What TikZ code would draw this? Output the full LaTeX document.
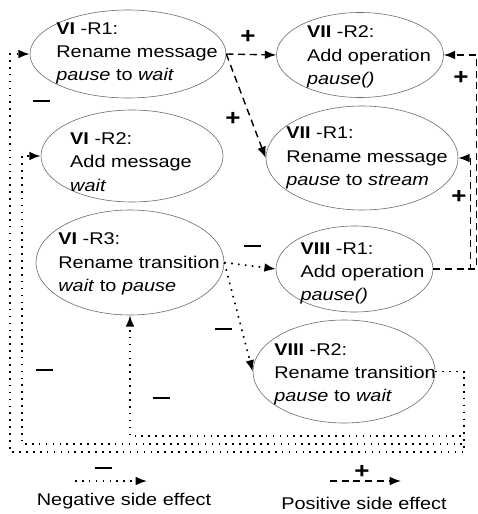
\documentclass[tikz,border=0pt]{standalone}
\usepackage{fontspec}
\setmainfont{Liberation Sans}[FakeStretch=1.17]
\usetikzlibrary{arrows.meta,shapes.geometric}
\definecolor{ruleEdge}{RGB}{105,105,105}
\tikzset{
  rl/.style    ={ellipse, draw=ruleEdge, line width=0.5pt, inner sep=0pt},
  rtxt/.style  ={align=left, inner sep=0pt, font=\fontsize{14.5}{19.8}\selectfont},
  negfx/.style ={-{Latex[length=3.4mm,width=2.6mm]}, line width=1.4pt,
                 dash pattern=on 1.4pt off 4.5pt},
  posfx/.style ={-{Latex[length=3.4mm,width=2.6mm]}, line width=1.2pt,
                 dash pattern=on 6pt off 4pt},
  sgnp/.style  ={inner sep=0pt, font=\fontsize{19}{22}\selectfont\bfseries},
  sgnm/.style  ={inner sep=0pt},
  legend/.style={inner sep=0pt, font=\fontsize{14.5}{17}\selectfont},
}
\newcommand{\negsign}{\rule{0.51cm}{1.9pt}}

\begin{document}
\begin{tikzpicture}[x=0.03cm, y=-0.03cm]
\useasboundingbox (0,0) rectangle (477,514);
% refactoring rules
\node[rl, minimum width=5.88cm, minimum height=2.64cm] (r61) at (128,54) {};
\node[rl, minimum width=5.01cm, minimum height=2.55cm] (r72) at (360,55) {};
\node[rl, minimum width=5.76cm, minimum height=3.12cm] (r71) at (362,158) {};
\node[rl, minimum width=5.46cm, minimum height=2.76cm] (r62) at (132,156) {};
\node[rl, minimum width=5.64cm, minimum height=3.15cm] (r63) at (130,262.5) {};
\node[rl, minimum width=4.71cm, minimum height=2.58cm] (r81) at (354.5,269) {};
\node[rl, minimum width=5.46cm, minimum height=3.09cm] (r82) at (344,371.5) {};
\node[rtxt] (t61) at (137,53.5) {\textbf{VI} -R1:\\Rename message\\\textit{pause} to \textit{wait}};
\node[rtxt] (t72) at (369,57) {\textbf{VII} -R2:\\Add operation\\\textit{pause()}};
\node[rtxt] (t71) at (367,158) {\textbf{VII} -R1:\\Rename message\\\textit{pause} to \textit{stream}};
\node[rtxt] (t62) at (131,162) {\textbf{VI} -R2:\\Add message\\\textit{wait}};
\node[rtxt] (t63) at (139,264) {\textbf{VI} -R3:\\Rename transition\\\textit{wait} to \textit{pause}};
\node[rtxt] (t81) at (362.5,273.5) {\textbf{VIII} -R1:\\Add operation\\\textit{pause()}};
\node[rtxt] (t82) at (355,374.5) {\textbf{VIII} -R2:\\Rename transition\\\textit{pause} to \textit{wait}};

% positive side effects
\draw[posfx] (r61.east) -- (r72.west);
\draw[posfx] (r61.east) -- (r71.west);
\draw[posfx] (r81.east) -- ++(37,0) |- (r71.east);
\draw[posfx] (r81.east) -- ++(43,0) |- (r72.east);
\node[sgnp] (p1) at (248,37) {+};
\node[sgnp] (p2) at (233,119) {+};
\node[sgnp] (p3) at (461,78) {+};
\node[sgnp] (p4) at (459,197) {+};

% negative side effects
\draw[negfx] (r63.east) -- (r81.west);
\draw[negfx] (r63.east) -- (r82.west);
\draw[negfx] (r82.east) -- ++(29,0) -- ++(0,64.5) -| (r63.south);
\draw[negfx] (r82.east) -- ++(29,0) -- ++(0,72.5) -- ++(-442,0) |- (r62.west);
\draw[negfx] (r82.east) -- ++(29,0) -- ++(0,80.5) -- ++(-454,0) |- (r61.west);
\node[sgnm] (m1) at (41,101) {\negsign};
\node[sgnm] (m2) at (44,370) {\negsign};
\node[sgnm] (m3) at (161,398) {\negsign};
\node[sgnm] (m4) at (252,246) {\negsign};
\node[sgnm] (m5) at (223,329) {\negsign};

% legend
\coordinate (negS) at (75,481);
\coordinate (negE) at (147,481);
\coordinate (posS) at (330,481);
\coordinate (posE) at (401,481);
\draw[negfx] (negS) -- (negE);
\draw[posfx] (posS) -- (posE);
\node[sgnm] (m6) at (103,468) {\negsign};
\node[sgnp] (p5) at (362,472) {+};
\node[legend] (negtxt) at (124,501.5) {Negative side effect};
\node[legend] (postxt) at (364,503.5) {Positive side effect};
\end{tikzpicture}
\end{document}
